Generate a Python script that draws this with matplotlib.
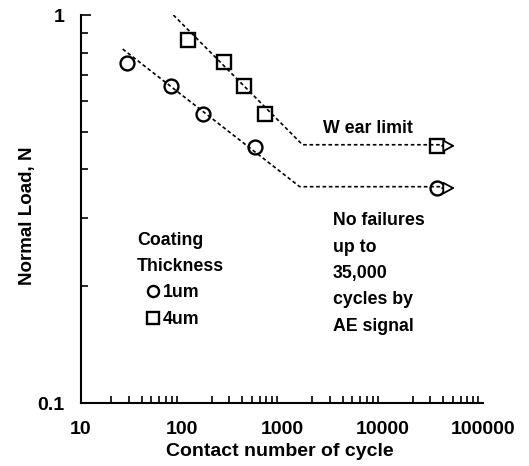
import matplotlib
matplotlib.use("Agg")
import matplotlib.pyplot as plt
from matplotlib.ticker import FixedLocator, NullFormatter, LogLocator

plt.rcParams['font.family'] = ['Liberation Sans', 'DejaVu Sans']
plt.rcParams['font.weight'] = 'bold'

# Data
cyc_1um = [29, 79, 164, 540]
load_1um = [0.75, 0.658, 0.556, 0.457]
cyc_4um = [116, 265, 419, 678]
load_4um = [0.86, 0.757, 0.658, 0.557]
runout_cycles = 35000
runout_1um = 0.358
runout_4um = 0.46

# dashed trend lines (knee + limit)
trend_1um_x = [26, 1500, 45000]
trend_1um_y = [0.817, 0.361, 0.361]
trend_4um_x = [83, 1600, 45000]
trend_4um_y = [1.0, 0.463, 0.463]

x_ticks = [10, 100, 1000, 10000, 100000]
x_ticklabels = ['10', '100', '1000', '10000', '100000']
y_ticks = [0.1, 1]
y_ticklabels = ['0.1', '1']

FS = 12.8

fig = plt.figure(figsize=(5.29, 4.66), dpi=100)
ax = fig.add_axes([81/529, 63/466, (483-81)/529, (403-15)/466])
ax.set_xscale('log')
ax.set_yscale('log')
ax.set_xlim(10, 100000)
ax.set_ylim(0.1, 1)

dash = (0, (2.2, 1.6))
ax.plot(trend_1um_x, trend_1um_y, color='black', lw=1.2, linestyle=dash)
ax.plot(trend_4um_x, trend_4um_y, color='black', lw=1.2, linestyle=dash)

mk = dict(markerfacecolor='none', markeredgecolor='black', markeredgewidth=1.7, markersize=10, linestyle='none')
h1, = ax.plot(cyc_1um, load_1um, marker='o', **mk)
h4, = ax.plot(cyc_4um, load_4um, marker='s', **mk)
ax.plot([runout_cycles], [runout_1um], marker='o', **mk)
ax.plot([runout_cycles], [runout_4um], marker='s', **mk)

for yv in (runout_1um, runout_4um):
    ax.annotate('', xy=(runout_cycles * 1.6, yv), xytext=(runout_cycles * 1.05, yv),
                arrowprops=dict(arrowstyle='-|>,head_length=0.7,head_width=0.38',
                                fc='white', ec='black', lw=1.3))

for s in ('top', 'right'):
    ax.spines[s].set_visible(False)
for s in ('left', 'bottom'):
    ax.spines[s].set_linewidth(1.5)

ax.xaxis.set_major_locator(FixedLocator(x_ticks))
ax.set_xticklabels(x_ticklabels)
ax.xaxis.set_minor_locator(LogLocator(base=10, subs=range(2, 10)))
ax.xaxis.set_minor_formatter(NullFormatter())
ax.yaxis.set_major_locator(FixedLocator(y_ticks))
ax.set_yticklabels(y_ticklabels)
ax.yaxis.set_minor_locator(LogLocator(base=10, subs=range(2, 10)))
ax.yaxis.set_minor_formatter(NullFormatter())

ax.tick_params(which='both', direction='in', width=1.2, labelsize=14)
ax.tick_params(which='major', length=7)
ax.tick_params(which='minor', length=5)
ax.tick_params(axis='x', which='major', length=0, pad=13)
ax.tick_params(axis='y', which='major', pad=12)

ax.set_xlabel('Contact number of cycle', fontsize=14, fontweight='bold')
ax.xaxis.set_label_coords((280-81)/402, -(443-403)/388)
ax.set_ylabel('Normal Load, N', fontsize=13.5, fontweight='bold')
ax.yaxis.set_label_coords(-(81-36)/402, (403-216)/388)

ax.text(2560, 0.511, 'W ear limit', fontsize=FS, fontweight='bold', ha='left', va='center')
ax.text(3210, 0.31, 'No failures\nup to\n35,000\ncycles by\nAE signal', fontsize=FS,
        fontweight='bold', ha='left', va='top', linespacing=1.72)

ax.text((137-81)/402, (403-253.5)/388, 'Coating\nThickness', transform=ax.transAxes,
        fontsize=FS, fontweight='bold', ha='left', va='center', linespacing=1.72)
leg = ax.legend([h1, h4], ['1um', '4um'], frameon=False,
                loc='upper left', bbox_to_anchor=((146-81)/402, (403-284)/388), handlelength=0.8,
                handletextpad=0.15, labelspacing=0.55, fontsize=FS, markerscale=0.8,
                borderpad=0, borderaxespad=0)

fig.savefig('out.png', dpi=100)
